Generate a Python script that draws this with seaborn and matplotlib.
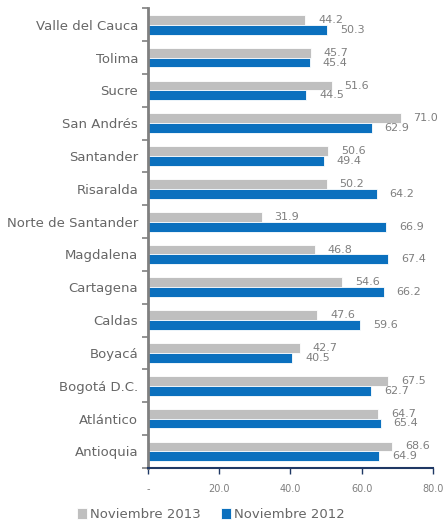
import pandas as pd
import numpy as np
import seaborn as sns
import matplotlib.pyplot as plt
from matplotlib.ticker import FixedLocator

ciudades = ["Valle del Cauca", "Tolima", "Sucre", "San Andrés", "Santander",
            "Risaralda", "Norte de Santander", "Magdalena", "Cartagena",
            "Caldas", "Boyacá", "Bogotá D.C.", "Atlántico", "Antioquia"]
nov_2013 = [44.2, 45.7, 51.6, 71.0, 50.6, 50.2, 31.9, 46.8, 54.6, 47.6,
            42.7, 67.5, 64.7, 68.6]
nov_2012 = [50.3, 45.4, 44.5, 62.9, 49.4, 64.2, 66.9, 67.4, 66.2, 59.6,
            40.5, 62.7, 65.4, 64.9]
series = ["Noviembre 2013", "Noviembre 2012"]
colores = ["#BFBFBF", "#0B70BE"]
xticks = [0, 20, 40, 60, 80]
xticklabels = ["-", "20.0", "40.0", "60.0", "80.0"]

df = pd.DataFrame({
    "ciudad": ciudades * 2,
    "valor": nov_2013 + nov_2012,
    "serie": [series[0]] * len(ciudades) + [series[1]] * len(ciudades),
})

sns.set_style("white")
plt.rcParams["font.family"] = ["DejaVu Sans"]
gris = "#666666"

fig = plt.figure(figsize=(4.43, 5.25), dpi=100)
ax = fig.add_axes([0.334, 0.109, 0.643, 0.875])

sns.barplot(data=df, x="valor", y="ciudad", hue="serie", hue_order=series,
            order=ciudades, palette=colores, width=0.6, orient="h",
            edgecolor="white", linewidth=0.6, saturation=1, ax=ax)

# etiquetas de valores
for cont in ax.containers:
    for bar in cont:
        w = bar.get_width()
        yc = bar.get_y() + bar.get_height() / 2
        ax.text(w + 3.6, yc, f"{w:.1f}", va="center", ha="left",
                fontsize=8, color="#7F7F7F")

ax.set_xlim(0, 80)
ax.set_ylim(len(ciudades) - 0.5, -0.5)
ax.set_xticks(xticks)
ax.set_xticklabels(xticklabels, fontsize=7, color="#7F7F7F")
ax.set_xlabel("")
ax.set_ylabel("")
ax.tick_params(axis="y", length=0, labelsize=9.5, labelcolor=gris, pad=7)
ax.yaxis.set_minor_locator(FixedLocator(np.arange(-0.5, len(ciudades), 1.0)))
ax.tick_params(axis="y", which="minor", length=4, color="#808080", width=1.2,
               left=True)
ax.tick_params(axis="x", length=4, color="#1F3864", width=1, bottom=True,
               pad=8)

for s in ["top", "right"]:
    ax.spines[s].set_visible(False)
ax.spines["left"].set_color("#808080")
ax.spines["left"].set_linewidth(2)
ax.spines["bottom"].set_color("#1F3864")
ax.spines["bottom"].set_linewidth(1.5)

ax.legend(loc="center", bbox_to_anchor=(0.22, -0.102), ncol=2,
          frameon=False, fontsize=9.5, labelcolor=gris, handlelength=0.8,
          handleheight=0.8, handletextpad=0.2, columnspacing=1.5,
          borderpad=0.1)

fig.savefig("out.png", dpi=100)
